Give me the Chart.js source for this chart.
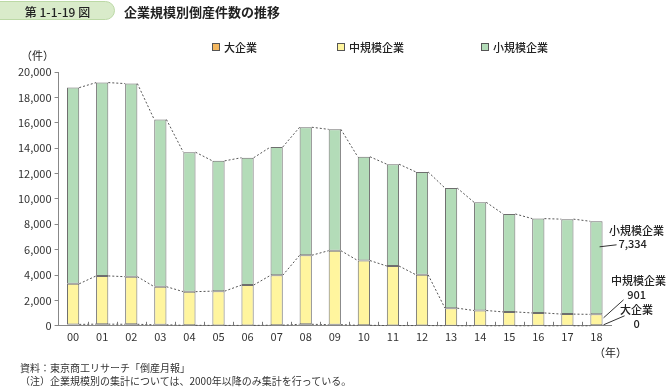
<!DOCTYPE html>
<html>
<head>
<meta charset="utf-8">
<script src="https://cdn.jsdelivr.net/npm/chart.js@4/dist/chart.umd.min.js"></script>
<style>
  body { margin: 0; background: #fff; font-family: 'Noto Sans CJK JP', sans-serif; color: #222; }
  #wrap { position: relative; width: 666px; height: 387px; overflow: hidden; }
  #chart { position: absolute; left: 0; top: 0; }
  .badge { position: absolute; left: -12px; top: 1px; width: 127px; height: 19px; background: #d9ebca;
           border: 1px solid #bcd9a6; border-radius: 10px; font-size: 12px; font-weight: 500;
           line-height: 19px; text-align: center; padding-left: 12px; box-sizing: border-box; }
  .title { position: absolute; left: 124px; top: 2px; font-size: 13px; font-weight: 700; line-height: 19px; }
  .legend { position: absolute; top: 40px; font-size: 11px; font-weight: 500; line-height: 14px; }
  .legend i { display: inline-block; width: 6px; height: 6px; border: 1px solid #555; margin-right: 4px; vertical-align: 1px; }
  .unit { position: absolute; left: 21px; top: 47px; font-size: 11px; }
  .year { position: absolute; left: 594px; top: 344px; font-size: 11px; }
  .foot { position: absolute; left: 20px; font-size: 10px; color: #333; line-height: 13px; }
</style>
</head>
<body>
<div id="wrap">
  <canvas id="chart" width="666" height="387"></canvas>
  <div class="badge">第 1-1-19 図</div>
  <div class="title">企業規模別倒産件数の推移</div>
  <div class="legend" style="left:212px"><i style="background:#f4b860"></i>大企業</div>
  <div class="legend" style="left:337px"><i style="background:#fff59e"></i>中規模企業</div>
  <div class="legend" style="left:481px"><i style="background:#b3dcb8"></i>小規模企業</div>
  <div class="unit">（件）</div>
  <div class="year">（年）</div>
  <div class="foot" style="top:361px">資料：東京商工リサーチ「倒産月報」</div>
  <div class="foot" style="top:374px">（注）企業規模別の集計については、2000年以降のみ集計を行っている。</div>
</div>
<script>
var years = ['00', '01', '02', '03', '04', '05', '06', '07', '08', '09',
             '10', '11', '12', '13', '14', '15', '16', '17', '18'];
var large  = [110, 130, 120, 80, 40, 30, 30, 50, 120, 90, 40, 20, 20, 10, 5, 5, 3, 2, 0];
var medium = [3200, 3800, 3750, 3000, 2650, 2700, 3180, 3930, 5440, 5830,
              5100, 4690, 4000, 1380, 1200, 1090, 1010, 920, 901];
var small  = [15459, 15234, 15217, 13175, 10989, 10268, 10035, 10111, 10086, 9560,
              8181, 8024, 8104, 9465, 8526, 7717, 7433, 7483, 7334];
var yTicks = [0, 2000, 4000, 6000, 8000, 10000, 12000, 14000, 16000, 18000, 20000];

var FONT = "'Noto Sans CJK JP', sans-serif";

// dotted lines linking bar tops, tick marks between years, notes for 2018
var connectors = {
    id: 'connectors',
    afterDatasetsDraw: function (chart) {
        var ctx = chart.ctx;
        var area = chart.chartArea;
        ctx.save();

        ctx.strokeStyle = '#555';
        ctx.lineWidth = 1;
        ctx.setLineDash([2, 2]);
        [0, 1, 2].forEach(function (d) {
            var bars = chart.getDatasetMeta(d).data;
            ctx.beginPath();
            for (var i = 0; i < bars.length - 1; i++) {
                var a = bars[i], b = bars[i + 1];
                ctx.moveTo(a.x + a.width / 2, a.y);
                ctx.lineTo(b.x - b.width / 2, b.y);
            }
            ctx.stroke();
        });
        ctx.setLineDash([]);

        var bars = chart.getDatasetMeta(2).data;
        var step = bars[1].x - bars[0].x;
        ctx.strokeStyle = '#777';
        ctx.beginPath();
        for (var i = 0; i < bars.length - 1; i++) {
            var tx = Math.round(bars[i].x + step / 2) + 0.5;
            ctx.moveTo(tx, area.bottom);
            ctx.lineTo(tx, area.bottom - 4);
        }
        ctx.stroke();

        var last = bars[bars.length - 1];
        var xr = last.x + last.width / 2;
        var bt = area.bottom;
        var cx = xr + 34;

        ctx.strokeStyle = '#333';
        ctx.beginPath();
        ctx.moveTo(xr - 3, bt - 79); ctx.lineTo(xr + 14, bt - 81);
        ctx.moveTo(xr + 1, bt - 8);  ctx.lineTo(xr + 21, bt - 26);
        ctx.moveTo(xr + 1, bt - 1);  ctx.lineTo(xr + 22, bt - 10);
        ctx.stroke();

        ctx.fillStyle = '#222';
        ctx.font = '500 11px ' + FONT;
        ctx.textAlign = 'center';
        ctx.textBaseline = 'middle';
        ctx.fillText('小規模企業', cx, bt - 95);
        ctx.fillText('7,334', cx - 4, bt - 82);
        ctx.fillText('中規模企業', cx + 2, bt - 45);
        ctx.fillText('901', cx, bt - 31);
        ctx.fillText('大企業', cx, bt - 16);
        ctx.fillText('0', cx, bt - 2);
        ctx.restore();
    }
};

new Chart(document.getElementById('chart').getContext('2d'), {
    type: 'bar',
    data: {
        labels: years,
        datasets: [{
            label: '大企業',
            data: large,
            backgroundColor: '#f4b860',
            borderColor: '#6e6e6e',
            borderWidth: 1,
            borderSkipped: false
        }, {
            label: '中規模企業',
            data: medium,
            backgroundColor: '#fff59e',
            borderColor: '#6e6e6e',
            borderWidth: 1,
            borderSkipped: false
        }, {
            label: '小規模企業',
            data: small,
            backgroundColor: '#b3dcb8',
            borderColor: '#6e6e6e',
            borderWidth: 1,
            borderSkipped: false
        }]
    },
    options: {
        responsive: false,
        animation: false,
        layout: { padding: { top: 72, left: 15, right: 55, bottom: 40 } },
        datasets: { bar: { barPercentage: 0.42, categoryPercentage: 1 } },
        plugins: { legend: { display: false }, tooltip: { enabled: false } },
        scales: {
            x: {
                stacked: true,
                grid: { display: false, drawTicks: false },
                border: { display: true, color: '#888' },
                ticks: { color: '#333', font: { family: FONT, size: 11 }, padding: 4 }
            },
            y: {
                stacked: true,
                min: 0,
                max: 20000,
                afterBuildTicks: function (axis) {
                    axis.ticks = yTicks.map(function (v) { return { value: v }; });
                },
                grid: { drawOnChartArea: false, drawTicks: true, tickLength: 4, color: '#888' },
                border: { display: true, color: '#888' },
                ticks: {
                    color: '#333',
                    font: { family: FONT, size: 11 },
                    padding: 3,
                    callback: function (v) { return v.toLocaleString('en-US'); }
                }
            }
        }
    },
    plugins: [connectors]
});
</script>
</body>
</html>
